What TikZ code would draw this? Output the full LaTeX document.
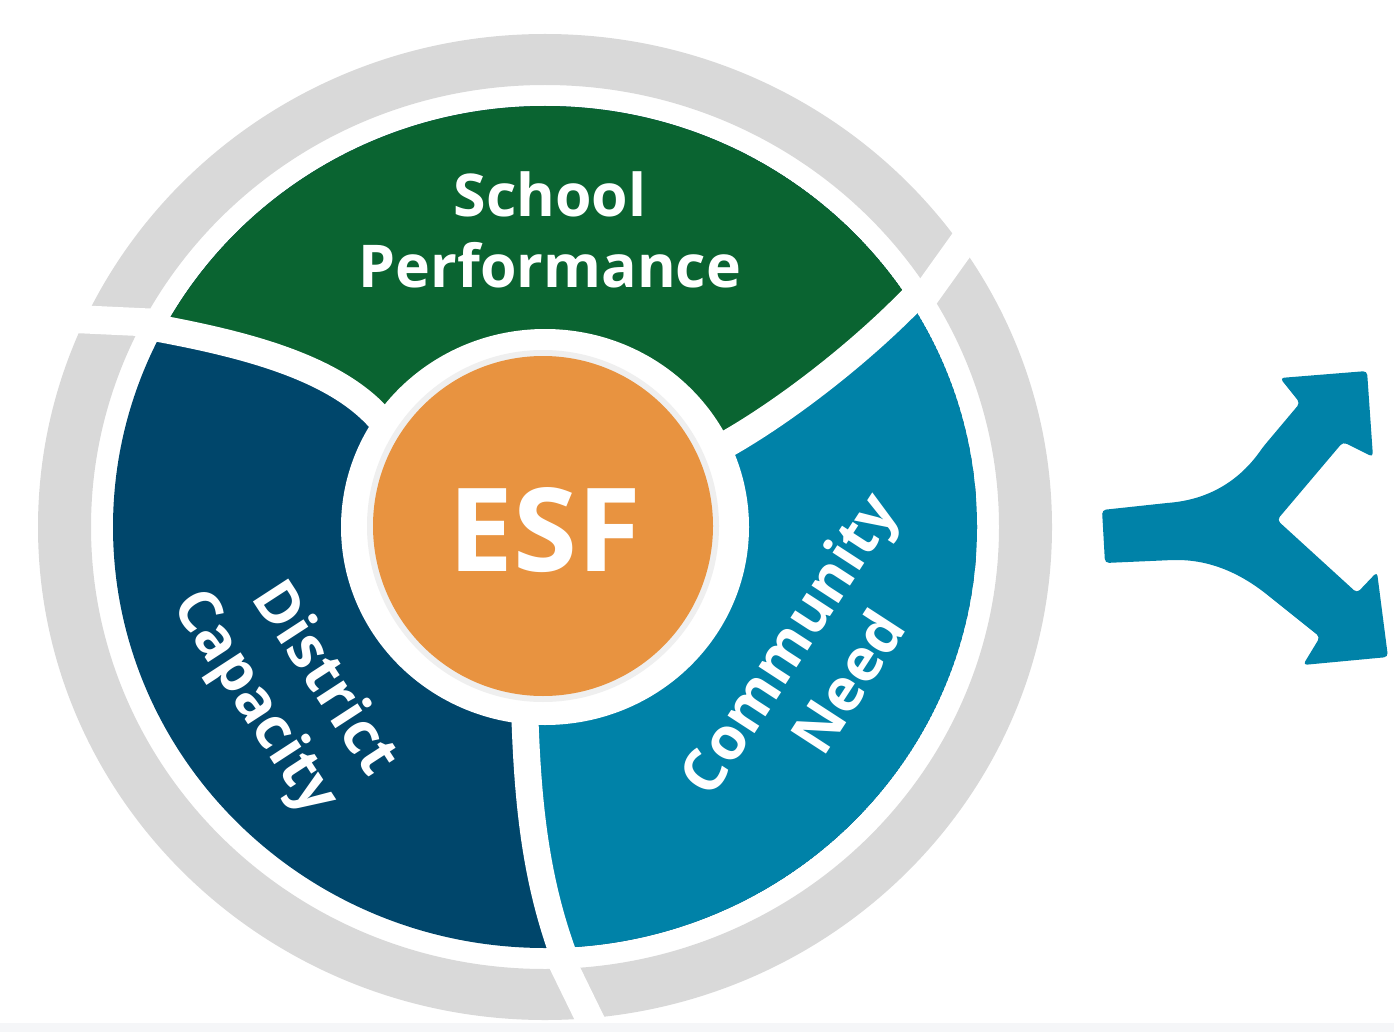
\documentclass[tikz,border=0pt]{standalone}
\usepackage{fontspec}
\setmainfont{Open Sans}
\definecolor{esfgreen}{HTML}{0A6431}
\definecolor{esfnavy}{HTML}{00466B}
\definecolor{esfteal}{HTML}{0082A8}
\definecolor{esforange}{HTML}{E89340}
\definecolor{esfring}{HTML}{D9D9D9}
\definecolor{esfshadow}{HTML}{EFEFEF}
\definecolor{esfstrip}{HTML}{F5F6F8}

\begin{document}
\begin{tikzpicture}[y=1pt, x=1pt, yscale=-1, inner sep=0pt, outer sep=0pt,
  divider/.style={draw=white, line width=27pt},
  ringgap/.style={draw=white, line width=28pt},
  label/.style={text=white, font=\bfseries\fontsize{59}{71}\selectfont, align=center}]
  \useasboundingbox (0,0) rectangle (1394,1032);
  \coordinate (c) at (545,527);
  \coordinate (o) at (543,526);
  % grey ring with its three cuts
  \path[fill=esfring, even odd rule] (c) ellipse (507 and 493) (c) ellipse (454 and 442);
  \path[ringgap] (20,316.5) -- (150,322.5);
  \path[ringgap] (922,300) -- (995,198);
  \path[ringgap] (560,958) -- (600,1040);
  \path[fill=esfstrip] (0,1023) rectangle (1394,1032);
  % the three segments
  \begin{scope}
    \clip (c) ellipse (432 and 421);
    \path[fill=esfnavy] (c) ellipse (432 and 421);
    \path[fill=esfgreen] (c) -- (385,425) .. controls (338,365) and (235,342) .. (140,325)
      -- (0,300) -- (0,0) -- (1100,0)
      -- (1100,150) -- (920,291) .. controls (855,360) and (760,430) .. (700,458) -- cycle;
    \path[fill=esfteal] (c) -- (700,458) .. controls (760,430) and (855,360) .. (920,291)
      -- (1100,150) -- (1100,1100) -- (600,1100) -- (566,962)
      .. controls (535,880) and (526,800) .. (524,680) -- cycle;
  \end{scope}
  \path[divider] (385,425) .. controls (338,365) and (235,342) .. (140,325);
  \path[divider] (700,458) .. controls (760,430) and (855,360) .. (920,291);
  \path[divider] (524,680) .. controls (526,800) and (535,880) .. (566,962);
  % centre
  \path[fill=white] (c) ellipse (204 and 198);
  \path[fill=esfshadow] (o) circle (176);
  \path[fill=esforange] (o) circle (170);
  \node[text=white, font=\bfseries\fontsize{116}{116}\selectfont] (esf) at (545,530) {ESF};
  \node[label] (school) at (550,230) {School\\Performance};
  \node[label, align=right, rotate=-57] (district) at (283,684) {District\\Capacity};
  \node[label, rotate=57] (community) at (817,662) {Community\\Need};
  % split arrow
  \path[fill=esfteal, rounded corners=4pt] (1102,510) -- (1167,503)
    .. controls (1210,499) and (1240,480) .. (1263,447) -- (1300,403) -- (1280,378)
    -- (1367,371) -- (1373,457) -- (1343,442) -- (1277,520) -- (1357,593)
    -- (1377,572) -- (1388,657) -- (1303,665) -- (1320,637) -- (1270,597)
    .. controls (1240,573) and (1210,560) .. (1173,560) -- (1105,563) -- cycle;
\end{tikzpicture}
\end{document}
